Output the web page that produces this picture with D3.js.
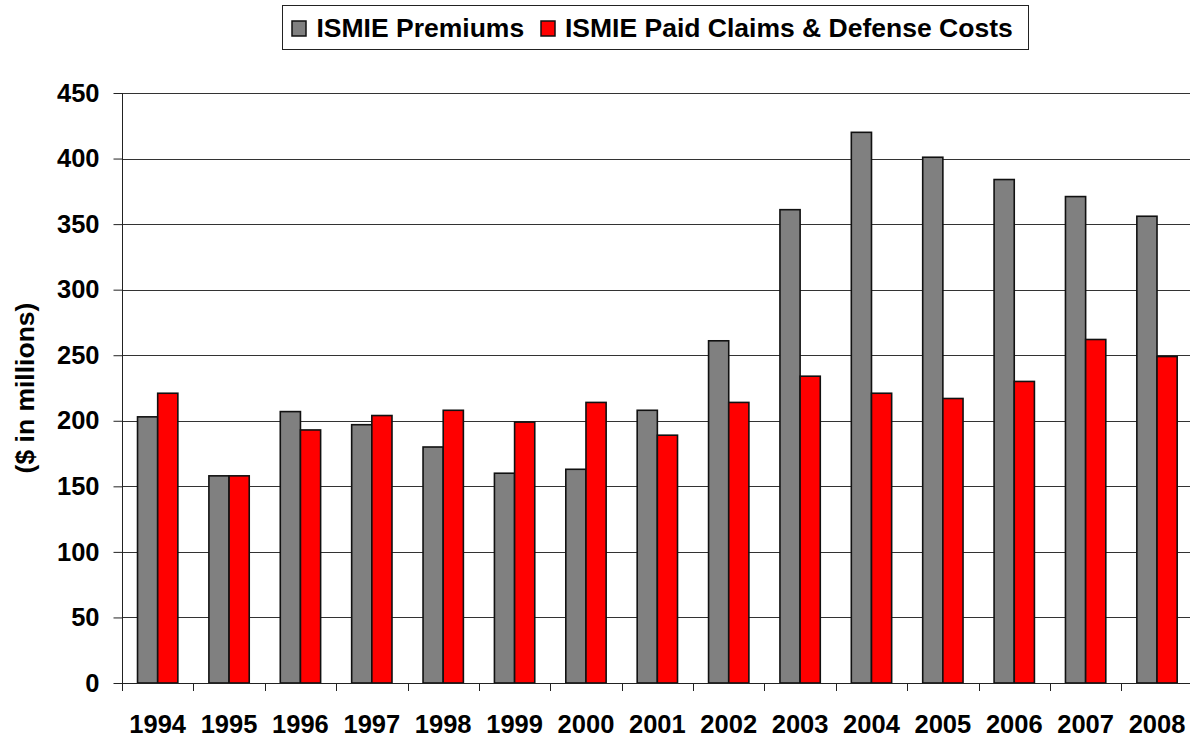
<!DOCTYPE html>
<html>
<head>
<meta charset="utf-8">
<script src="https://cdn.jsdelivr.net/npm/d3@7"></script>
<style>
  html, body { margin: 0; padding: 0; background: #fff; }
  svg { display: block; font-family: "Liberation Sans", Arial, sans-serif; font-weight: bold; }
</style>
</head>
<body>
<svg id="chart" width="1190" height="738"></svg>
<script>
const years = ["1994","1995","1996","1997","1998","1999","2000","2001","2002","2003","2004","2005","2006","2007","2008"];
const premiums = [203, 158, 207, 197, 180, 160, 163, 208, 261, 361, 420, 401, 384, 371, 356];
const claims = [221, 158, 193, 204, 208, 199, 214, 189, 214, 234, 221, 217, 230, 262, 249];
const seriesNames = ["ISMIE Premiums", "ISMIE Paid Claims & Defense Costs"];
const seriesColors = ["#808080", "#ff0000"];
const yTicks = [0, 50, 100, 150, 200, 250, 300, 350, 400, 450];
const yLabel = "($ in millions)";

(function () {
const svg = d3.select("#chart");
const pLeft = 122, pRight = 1192.7, pTop = 93, pBottom = 683;

const x0 = d3.scaleBand().domain(years).range([pLeft, pRight]).paddingInner(0.435).paddingOuter(0.2175);
const x1 = d3.scaleBand().domain([0, 1]).range([0, x0.bandwidth()]);
const y = d3.scaleLinear().domain([0, 450]).range([pBottom, pTop]);

// gridlines
svg.append("g").selectAll("line").data(yTicks.filter(d => d > 0)).join("line")
  .attr("x1", pLeft).attr("x2", 1190)
  .attr("y1", d => Math.round(y(d)) + 0.5).attr("y2", d => Math.round(y(d)) + 0.5)
  .attr("stroke", "#333").attr("stroke-width", 1);

// bars
const data = years.map((yr, i) => ({ yr, vals: [premiums[i], claims[i]] }));
const groups = svg.append("g").selectAll("g").data(data).join("g")
  .attr("transform", d => `translate(${x0(d.yr)},0)`);
groups.selectAll("rect").data(d => d.vals.map((v, k) => ({ v, k }))).join("rect")
  .attr("x", d => x1(d.k))
  .attr("width", x1.bandwidth())
  .attr("y", d => y(d.v))
  .attr("height", d => y(0) - y(d.v))
  .attr("fill", d => seriesColors[d.k])
  .attr("stroke", "#111").attr("stroke-width", 1.6);

// y axis
const yAxis = d3.axisLeft(y).tickValues(yTicks).tickSize(9).tickPadding(14);
const ga = svg.append("g").attr("transform", `translate(${pLeft + 0.5},0)`).call(yAxis);
ga.select(".domain").attr("stroke", "#222").attr("d", `M0,${y(0)}V${y(450)}`);
ga.selectAll(".tick line").attr("stroke", "#222");
ga.selectAll(".tick text").attr("font-size", 25.5).attr("font-weight", "bold")
  .attr("font-family", "Liberation Sans, Arial, sans-serif").attr("fill", "#000");

// x axis
const step = x0.step();
const boundaries = d3.range(years.length + 1).map(i => pLeft + i * step);
svg.append("line").attr("x1", pLeft).attr("x2", 1190)
  .attr("y1", pBottom + 0.5).attr("y2", pBottom + 0.5).attr("stroke", "#222");
svg.append("g").selectAll("line").data(boundaries).join("line")
  .attr("x1", d => Math.round(d) + 0.5).attr("x2", d => Math.round(d) + 0.5)
  .attr("y1", pBottom).attr("y2", pBottom + 8).attr("stroke", "#222");
svg.append("g").selectAll("text").data(years).join("text")
  .attr("x", d => x0(d) + x0.bandwidth() / 2)
  .attr("y", 733)
  .attr("text-anchor", "middle")
  .attr("font-size", 25.5).attr("fill", "#000")
  .text(d => d);

// y label
svg.append("text")
  .attr("transform", `translate(25,${(pTop + pBottom) / 2}) rotate(-90)`)
  .attr("text-anchor", "middle").attr("dominant-baseline", "central")
  .attr("font-size", 26.5).attr("fill", "#000")
  .text(yLabel);

// legend
const lg = svg.append("g");
lg.append("rect").attr("x", 282.5).attr("y", 5.5).attr("width", 746).attr("height", 44)
  .attr("fill", "#fff").attr("stroke", "#222").attr("stroke-width", 1);
const legX = [292, 541];
const legTextX = [316.5, 565];
seriesNames.forEach((name, k) => {
  lg.append("rect").attr("x", legX[k]).attr("y", 21).attr("width", 14).attr("height", 15)
    .attr("fill", seriesColors[k]).attr("stroke", "#111").attr("stroke-width", 1.5);
  lg.append("text").attr("x", legTextX[k]).attr("y", 36.7)
    .attr("font-size", 26.5).attr("fill", "#000").text(name);
});
})();
</script>
</body>
</html>
